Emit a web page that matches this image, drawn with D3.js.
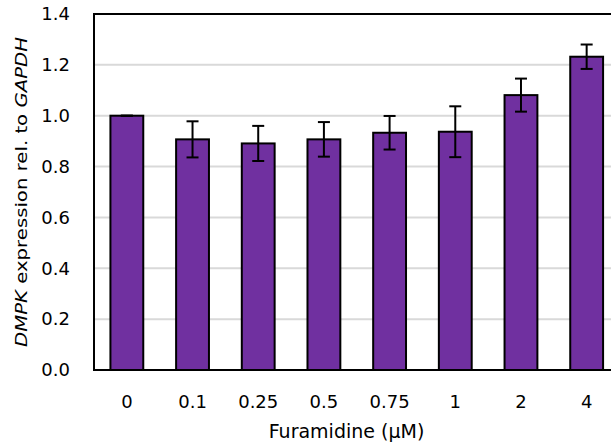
<!DOCTYPE html>
<html>
<head>
<meta charset="utf-8">
<script src="https://cdn.jsdelivr.net/npm/d3@7"></script>
<style>
  html, body { margin: 0; padding: 0; background: #fff; }
  svg { display: block; }
  text { font-family: "DejaVu Sans", "Liberation Sans", sans-serif; fill: #000; }
</style>
</head>
<body>
<svg id="chart" width="611" height="446"></svg>
<script>
// Furamidine dose series: DMPK expression relative to GAPDH
const doses = ["0", "0.1", "0.25", "0.5", "0.75", "1", "2", "4"];
const means = [1.0, 0.907, 0.891, 0.907, 0.933, 0.937, 1.081, 1.232];
const errors = [0.0, 0.071, 0.069, 0.068, 0.066, 0.10, 0.065, 0.048];
const yTicks = [0, 0.2, 0.4, 0.6, 0.8, 1.0, 1.2, 1.4];

const rows = doses.map((d, i) => ({ dose: d, mean: means[i], err: errors[i] }));

const svg = d3.select("#chart");
const plotLeft = 94, plotRight = 619.5, plotTop = 14, plotBottom = 370;

const x = d3.scaleBand().domain(doses).range([plotLeft, plotRight])
  .paddingInner(0.5).paddingOuter(0.25);
const y = d3.scaleLinear().domain([0, 1.4]).range([plotBottom, plotTop]);

// horizontal gridlines
svg.append("g")
  .selectAll("line")
  .data(yTicks.filter(t => t > 0 && t < 1.4))
  .join("line")
  .attr("x1", plotLeft).attr("x2", plotRight)
  .attr("y1", d => y(d)).attr("y2", d => y(d))
  .attr("stroke", "#d9d9d9").attr("stroke-width", 2);

// plot frame
svg.append("rect")
  .attr("x", plotLeft).attr("y", plotTop)
  .attr("width", plotRight - plotLeft).attr("height", plotBottom - plotTop)
  .attr("fill", "none").attr("stroke", "#000").attr("stroke-width", 2);

// bars
svg.append("g")
  .selectAll("rect")
  .data(rows)
  .join("rect")
  .attr("x", d => x(d.dose))
  .attr("width", x.bandwidth())
  .attr("y", d => y(d.mean))
  .attr("height", d => y(0) - y(d.mean))
  .attr("fill", "#7030a0")
  .attr("stroke", "#000").attr("stroke-width", 2);

// error bars
const capHalf = 6;
const eb = svg.append("g").attr("stroke", "#000").attr("stroke-width", 2);
rows.forEach(d => {
  const cx = x(d.dose) + x.bandwidth() / 2;
  const hi = y(d.mean + d.err), lo = y(d.mean - d.err);
  eb.append("line").attr("x1", cx).attr("x2", cx).attr("y1", hi).attr("y2", lo);
  eb.append("line").attr("x1", cx - capHalf).attr("x2", cx + capHalf).attr("y1", hi).attr("y2", hi);
  eb.append("line").attr("x1", cx - capHalf).attr("x2", cx + capHalf).attr("y1", lo).attr("y2", lo);
});

// y axis tick labels
const yAxis = d3.axisLeft(y).tickValues(yTicks).tickFormat(d3.format(".1f"))
  .tickSize(0).tickPadding(24);
const yg = svg.append("g").attr("transform", `translate(${plotLeft},0)`).call(yAxis);
yg.select(".domain").remove();
yg.selectAll("text").attr("font-size", 18).attr("font-family", "DejaVu Sans");

// x axis tick labels
const xAxis = d3.axisBottom(x).tickSize(0).tickPadding(25);
const xg = svg.append("g").attr("transform", `translate(0,${plotBottom})`).call(xAxis);
xg.select(".domain").remove();
xg.selectAll("text").attr("font-size", 18).attr("font-family", "DejaVu Sans");

// x axis title
svg.append("text")
  .attr("x", 346.5).attr("y", 438)
  .attr("text-anchor", "middle")
  .attr("font-size", 19)
  .text("Furamidine (μM)");

// y axis title with italic gene names
const yt = svg.append("text")
  .attr("transform", "translate(27,192) rotate(-90)")
  .attr("text-anchor", "middle")
  .attr("font-size", 15.5)
  .attr("textLength", 310)
  .attr("lengthAdjust", "spacingAndGlyphs");
yt.append("tspan").attr("font-style", "italic").text("DMPK");
yt.append("tspan").text(" expression rel. to ");
yt.append("tspan").attr("font-style", "italic").text("GAPDH");
</script>
</body>
</html>
